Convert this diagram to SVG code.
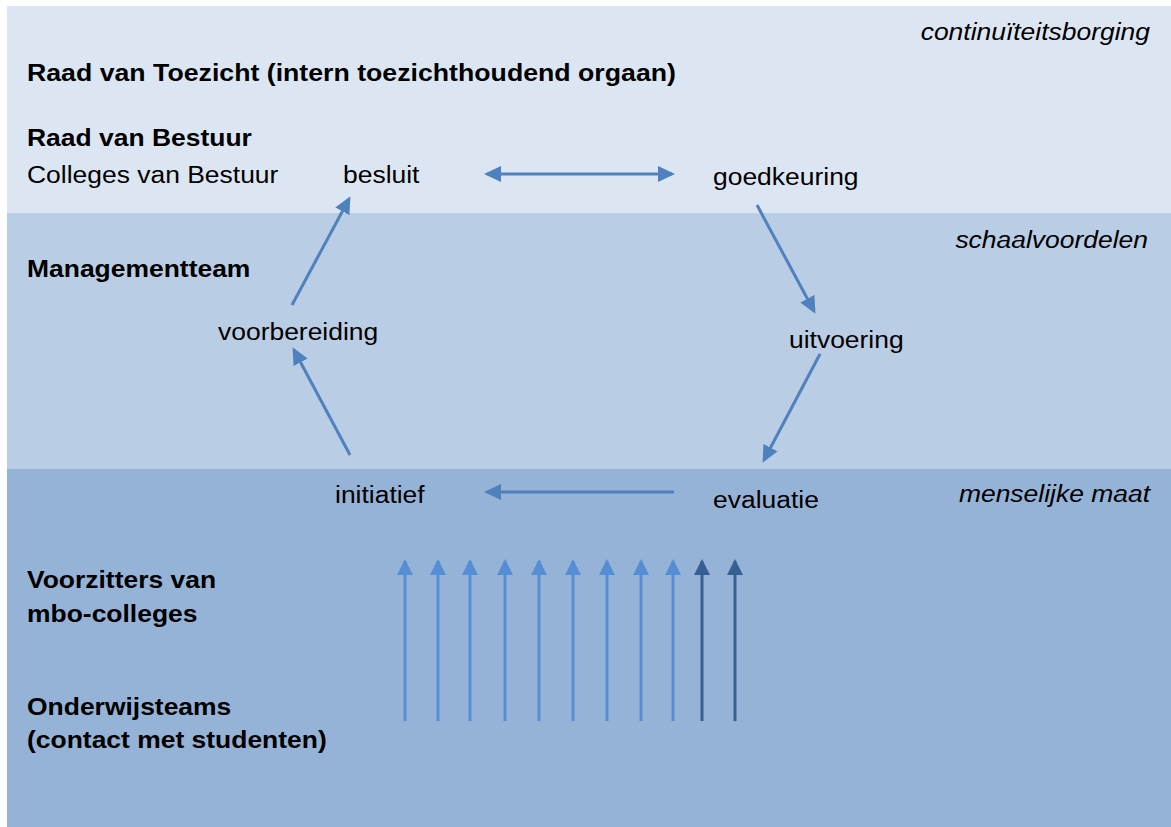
<svg xmlns="http://www.w3.org/2000/svg" width="1171" height="827" viewBox="0 0 1171 827">
<style>
text{font-family:"Liberation Sans",Arial,sans-serif;font-size:24.5px;fill:#000}
.b{font-weight:bold}
.i{font-style:italic;text-anchor:end}
.c{stroke:#4F81BD;stroke-width:3;fill:none}
.v{stroke:#558ED5;stroke-width:3;fill:none}
.vd{stroke:#376092;stroke-width:3;fill:none}
</style>
<defs>
<marker id="ah" markerUnits="userSpaceOnUse" markerWidth="17" markerHeight="16" refX="14" refY="8" orient="auto-start-reverse"><path d="M0,0 L17,8 L0,16 z" fill="#4F81BD"/></marker>
<marker id="al" markerUnits="userSpaceOnUse" markerWidth="16" markerHeight="16" refX="14" refY="8" orient="auto"><path d="M0,0 L16,8 L0,16 z" fill="#558ED5"/></marker>
<marker id="ad" markerUnits="userSpaceOnUse" markerWidth="16" markerHeight="16" refX="14" refY="8" orient="auto"><path d="M0,0 L16,8 L0,16 z" fill="#376092"/></marker>
</defs>
<rect width="1171" height="827" fill="#fff"/>
<g id="bands">
<rect x="7" y="6" width="1164" height="207" fill="#DCE6F2"/>
<rect x="7" y="213" width="1164" height="256" fill="#B9CDE5"/>
<rect x="7" y="469" width="1164" height="358" fill="#95B3D7"/>
</g>
<g id="labels">
<text class="i" transform="translate(1150,40) scale(1.08,1)">continuïteitsborging</text>
<text class="i" transform="translate(1148,248) scale(1.08,1)">schaalvoordelen</text>
<text class="i" transform="translate(1150,502) scale(1.08,1)">menselijke maat</text>
<text class="b" transform="translate(27,81) scale(1.09,1)">Raad van Toezicht (intern toezichthoudend orgaan)</text>
<text class="b" transform="translate(27,146) scale(1.08,1)">Raad van Bestuur</text>
<text transform="translate(27,183) scale(1.08,1)">Colleges van Bestuur</text>
<text class="b" transform="translate(27,277) scale(1.08,1)">Managementteam</text>
<text class="b" transform="translate(27,588) scale(1.08,1)">Voorzitters van</text>
<text class="b" transform="translate(27,622) scale(1.08,1)">mbo-colleges</text>
<text class="b" transform="translate(27,715) scale(1.08,1)">Onderwijsteams</text>
<text class="b" transform="translate(27,748) scale(1.08,1)">(contact met studenten)</text>
</g>
<g id="node-besluit"><text transform="translate(343,183) scale(1.08,1)">besluit</text></g>
<g id="node-goedkeuring"><text transform="translate(713,185) scale(1.08,1)">goedkeuring</text></g>
<g id="node-uitvoering"><text transform="translate(789,348) scale(1.08,1)">uitvoering</text></g>
<g id="node-evaluatie"><text transform="translate(713,508) scale(1.08,1)">evaluatie</text></g>
<g id="node-initiatief"><text transform="translate(335,503) scale(1.08,1)">initiatief</text></g>
<g id="node-voorbereiding"><text transform="translate(218,340) scale(1.08,1)">voorbereiding</text></g>
<g id="connectors">
<line class="c" x1="487" y1="174" x2="672" y2="174" marker-start="url(#ah)" marker-end="url(#ah)"/>
<line class="c" x1="757" y1="205" x2="814" y2="311" marker-end="url(#ah)"/>
<line class="c" x1="820" y1="354" x2="764" y2="460" marker-end="url(#ah)"/>
<line class="c" x1="674" y1="492" x2="487" y2="492" marker-end="url(#ah)"/>
<line class="c" x1="350" y1="455" x2="294" y2="350" marker-end="url(#ah)"/>
<line class="c" x1="292" y1="305" x2="349" y2="199" marker-end="url(#ah)"/>
<g id="upward">
<line class="v" x1="405" y1="721" x2="405" y2="561" marker-end="url(#al)"/>
<line class="v" x1="438" y1="721" x2="438" y2="561" marker-end="url(#al)"/>
<line class="v" x1="470" y1="721" x2="470" y2="561" marker-end="url(#al)"/>
<line class="v" x1="505" y1="721" x2="505" y2="561" marker-end="url(#al)"/>
<line class="v" x1="539" y1="721" x2="539" y2="561" marker-end="url(#al)"/>
<line class="v" x1="573" y1="721" x2="573" y2="561" marker-end="url(#al)"/>
<line class="v" x1="607" y1="721" x2="607" y2="561" marker-end="url(#al)"/>
<line class="v" x1="641" y1="721" x2="641" y2="561" marker-end="url(#al)"/>
<line class="v" x1="673" y1="721" x2="673" y2="561" marker-end="url(#al)"/>
<line class="vd" x1="702" y1="721" x2="702" y2="561" marker-end="url(#ad)"/>
<line class="vd" x1="735" y1="721" x2="735" y2="561" marker-end="url(#ad)"/>
</g>
</g>
</svg>
